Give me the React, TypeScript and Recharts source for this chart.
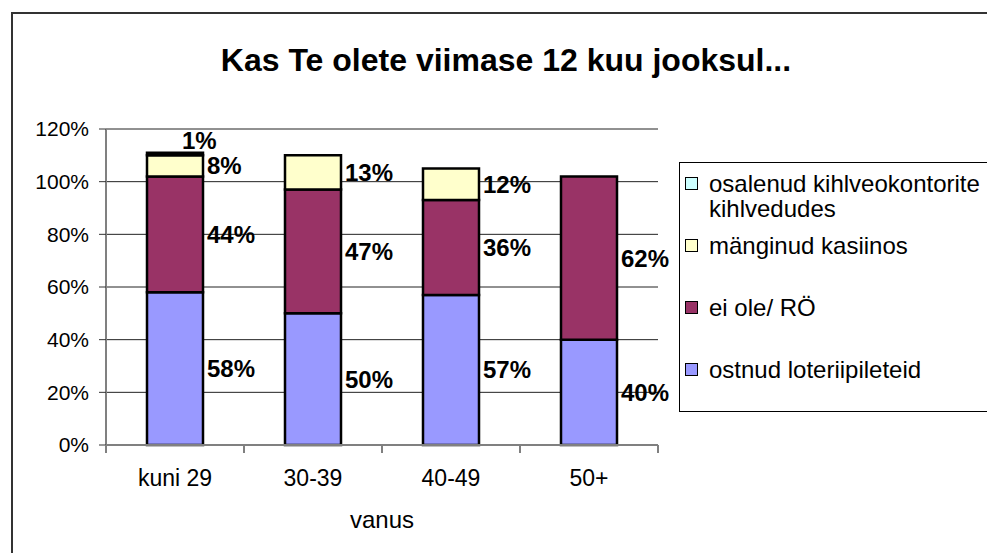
import { BarChart, Bar, XAxis, YAxis, CartesianGrid, LabelList, Legend } from 'recharts';

const groups = ['kuni 29', '30-39', '40-49', '50+'];
const lottery = [58, 50, 57, 40];
const noneOrDk = [44, 47, 36, 62];
const casino = [8, 13, 12, 0];
const betting = [1, 0, 0, 0];
const yTicks = [0, 20, 40, 60, 80, 100, 120];

const seriesKeys = ['lottery', 'noneOrDk', 'casino', 'betting'] as const;

const seriesNames = {
  lottery: 'ostnud loteriipileteid',
  noneOrDk: 'ei ole/ RÖ',
  casino: 'mänginud kasiinos',
  betting: 'osalenud kihlveokontorite kihlvedudes',
};

const COLORS = {
  lottery: '#9999FF',
  noneOrDk: '#993366',
  casino: '#FFFFCC',
  betting: '#CCFFFF',
};

const data = groups.map((group, i) => ({
  group,
  lottery: lottery[i],
  noneOrDk: noneOrDk[i],
  casino: casino[i],
  betting: betting[i],
}));

const FONT = '"Liberation Sans", Arial, sans-serif';
const W = 987;
const H = 553;
const margin = { top: 129, right: 329, bottom: 18, left: 46 };
const Y_AXIS_W = 60;
const X_AXIS_H = 90;
const X_TICK = 8;
const band = (W - margin.left - margin.right - Y_AXIS_W) / groups.length;

const renderLabel = (props: any) => {
  const x = Number(props.x);
  const y = Number(props.y);
  const width = Number(props.width);
  const height = Number(props.height);
  const { value } = props;
  if (!value) return null;
  const style = { fontFamily: FONT, fontSize: 24, fontWeight: 700, fill: '#000' };
  if (Math.abs(height) < 6) {
    return (
      <text x={x + width / 2 + 7} y={y - 12} dominantBaseline="central" {...style}>
        {value}%
      </text>
    );
  }
  return (
    <text x={x + width + 4} y={y + height / 2} dominantBaseline="central" {...style}>
      {value}%
    </text>
  );
};

const XTick = (props: any) => {
  const { x, y, payload, index } = props;
  const axisY = y - X_TICK;
  return (
    <g>
      <line x1={x - band / 2} x2={x - band / 2} y1={axisY} y2={axisY + X_TICK} stroke="#808080" strokeWidth={2} />
      {index === groups.length - 1 && (
        <line x1={x + band / 2} x2={x + band / 2} y1={axisY} y2={axisY + X_TICK} stroke="#808080" strokeWidth={2} />
      )}
      <text x={x} y={axisY + 33} textAnchor="middle" dominantBaseline="central" fontFamily={FONT} fontSize={23} fill="#000">
        {payload.value}
      </text>
    </g>
  );
};

// legend lists the stack top-down, like the original
const renderLegend = () => {
  const items = [...seriesKeys].reverse();
  return (
    <div
      style={{
        width: 320,
        height: 250,
        boxSizing: 'border-box',
        border: '1.5px solid #000',
        borderRight: 'none',
        padding: '8px 0 0 5px',
        fontFamily: FONT,
        fontSize: 24,
        lineHeight: '25px',
        color: '#000',
        background: '#fff',
      }}
    >
      {items.map((key) => (
        <div key={key} style={{ display: 'flex', alignItems: 'flex-start', height: 62 }}>
          <span
            style={{
              display: 'inline-block',
              width: 11,
              height: 11,
              marginTop: 6,
              marginRight: 11,
              flexShrink: 0,
              border: '1.5px solid #000',
              background: COLORS[key],
            }}
          />
          <span style={{ width: 285 }}>{seriesNames[key]}</span>
        </div>
      ))}
    </div>
  );
};

export default function App() {
  return (
    <div style={{ position: 'absolute', left: 0, top: 0, width: W, height: H, overflow: 'hidden', background: '#fff' }}>
      <div
        style={{
          position: 'absolute',
          left: 11,
          top: 12,
          width: W,
          height: H,
          borderTop: '2px solid #333',
          borderLeft: '2px solid #333',
        }}
      />
      <div
        style={{
          position: 'absolute',
          left: 0,
          top: 40,
          width: 1012,
          textAlign: 'center',
          fontFamily: FONT,
          fontWeight: 700,
          fontSize: 32,
          lineHeight: '40px',
          color: '#000',
        }}
      >
        Kas Te olete viimase 12 kuu jooksul...
      </div>
      <div style={{ position: 'absolute', left: 0, top: 0 }}>
        <BarChart width={W} height={H} data={data} margin={margin} style={{ fontFamily: FONT }}>
          <CartesianGrid vertical={false} stroke="#222" strokeWidth={1} />
          <XAxis
            dataKey="group"
            height={X_AXIS_H}
            tickLine={false}
            tickSize={X_TICK}
            tickMargin={0}
            axisLine={{ stroke: '#808080', strokeWidth: 2 }}
            tick={<XTick />}
            interval={0}
            label={{ value: 'vanus', position: 'insideBottom', offset: 7, fontSize: 24, fill: '#000', fontFamily: FONT }}
          />
          <XAxis xAxisId="top" dataKey="group" orientation="top" height={0} tick={false} tickLine={false} axisLine={{ stroke: '#808080', strokeWidth: 2 }} />
          <YAxis
            domain={[0, 120]}
            ticks={yTicks}
            width={Y_AXIS_W}
            interval={0}
            tickFormatter={(v) => `${v}%`}
            tick={{ fontSize: 21, fill: '#000', fontFamily: FONT }}
            tickSize={7}
            tickMargin={10}
            tickLine={{ stroke: '#333' }}
            axisLine={{ stroke: '#808080', strokeWidth: 2 }}
          />
          <YAxis yAxisId="r" orientation="right" domain={[0, 120]} width={0} tick={false} tickLine={false} axisLine={{ stroke: '#808080', strokeWidth: 2 }} />
          <Legend layout="vertical" align="center" verticalAlign="middle" wrapperStyle={{ left: 679, top: 162, width: 320, height: 250 }} content={renderLegend} />
          {seriesKeys.map((key) => (
            <Bar
              key={key}
              dataKey={key}
              name={seriesNames[key]}
              stackId="a"
              fill={COLORS[key]}
              stroke="#000"
              strokeWidth={2.5}
              barSize={56}
              isAnimationActive={false}
            >
              <LabelList dataKey={key} content={renderLabel} />
            </Bar>
          ))}
        </BarChart>
      </div>
    </div>
  );
}
